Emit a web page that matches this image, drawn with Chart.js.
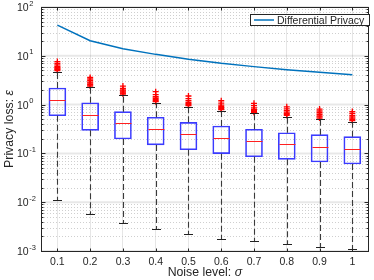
<!DOCTYPE html>
<html>
<head>
  <title>Privacy loss vs noise level</title>
  <script src="https://cdn.jsdelivr.net/npm/chart.js"></script>
  <style>
    body { margin: 0; background: #fff; }
    canvas { display: block; }
  </style>
</head>
<body>
  <canvas id="lossChart" width="374" height="280"></canvas>

  <script>
    // data
    const sigmaLabels = ['0.1', '0.2', '0.3', '0.4', '0.5', '0.6', '0.7', '0.8', '0.9', '1'];
    const dpLoss      = [42.5, 20.4, 14.0, 10.7, 8.5, 7.0, 6.0, 5.2, 4.6, 4.1];
    const q1          = [0.59, 0.297, 0.197, 0.149, 0.119, 0.0986, 0.0853, 0.0757, 0.0667, 0.0607];
    const medians     = [1.24, 0.61, 0.414, 0.31, 0.246, 0.204, 0.177, 0.154, 0.137, 0.121];
    const q3          = [2.19, 1.09, 0.716, 0.55, 0.433, 0.364, 0.312, 0.265, 0.242, 0.22];
    const whiskerLow  = [0.0111, 0.00565, 0.00375, 0.00283, 0.0022, 0.0018, 0.00158, 0.00137, 0.00123, 0.00111];
    const whiskerHigh = [4.7, 2.26, 1.57, 1.09, 0.905, 0.75, 0.66, 0.565, 0.507, 0.447];
    const outliers = [
      [5.0, 5.2, 5.4, 5.6, 5.8, 6.1, 6.5, 7.0, 7.6],
      [2.4, 2.5, 2.6, 2.75, 2.9, 3.1, 3.35, 3.6],
      [1.65, 1.72, 1.8, 1.9, 2.0, 2.15, 2.4],
      [1.15, 1.2, 1.27, 1.35, 1.45, 1.6, 1.84],
      [0.95, 1.0, 1.05, 1.1, 1.2, 1.32, 1.5],
      [0.79, 0.83, 0.87, 0.92, 0.98, 1.07, 1.2],
      [0.69, 0.72, 0.76, 0.8, 0.86, 0.95, 1.06],
      [0.6, 0.63, 0.66, 0.7, 0.75, 0.82, 0.9],
      [0.53, 0.56, 0.59, 0.63, 0.68, 0.74, 0.81],
      [0.47, 0.5, 0.53, 0.56, 0.6, 0.66, 0.72]
    ];
    const yExps = [-3, -2, -1, 0, 1, 2];

    const FONT = '"Liberation Sans", Arial, sans-serif';
    const AXIS_COLOR = '#262626';
    const TITLE_SIZE = 12.3;

    const crisp = v => Math.round(v) + 0.5;

    // minor dotted grid + decade lines
    const gridPlugin = {
      id: 'logGrid',
      beforeDatasetsDraw(chart) {
        const { ctx, chartArea: a, scales: { y } } = chart;
        ctx.save();
        ctx.lineWidth = 1;
        for (let e = yExps[0]; e < yExps[yExps.length - 1]; e++) {
          for (let s = 2; s <= 9; s++) {
            const py = crisp(y.getPixelForValue(s * Math.pow(10, e)));
            ctx.strokeStyle = '#cfcfcf';
            ctx.setLineDash([1, 2]);
            ctx.beginPath(); ctx.moveTo(a.left, py); ctx.lineTo(a.right, py); ctx.stroke();
          }
        }
        ctx.setLineDash([]);
        yExps.forEach(e => {
          const py = y.getPixelForValue(Math.pow(10, e));
          ctx.strokeStyle = 'rgba(0,0,0,0.09)';
          ctx.lineWidth = 2;
          ctx.beginPath(); ctx.moveTo(a.left, py); ctx.lineTo(a.right, py); ctx.stroke();
        });
        ctx.restore();
      }
    };

    // whiskers, caps and medians
    const boxPlugin = {
      id: 'boxParts',
      afterDatasetsDraw(chart) {
        const { ctx, scales: { x, y } } = chart;
        ctx.save();
        ctx.lineWidth = 1;
        sigmaLabels.forEach((lab, i) => {
          const cx = crisp(x.getPixelForValue(i));
          const yLo = crisp(y.getPixelForValue(whiskerLow[i]));
          const yHi = crisp(y.getPixelForValue(whiskerHigh[i]));
          const yB = y.getPixelForValue(q1[i]);
          const yT = y.getPixelForValue(q3[i]);
          const yM = crisp(y.getPixelForValue(medians[i]));

          ctx.strokeStyle = '#3a3a3a';
          ctx.lineWidth = 1.1;
          ctx.setLineDash([6, 3]);
          ctx.beginPath();
          ctx.moveTo(cx, yT); ctx.lineTo(cx, yHi);
          ctx.moveTo(cx, yB); ctx.lineTo(cx, yLo);
          ctx.stroke();

          ctx.setLineDash([]);
          ctx.lineWidth = 1;
          ctx.strokeStyle = '#222';
          ctx.beginPath();
          ctx.moveTo(cx - 4.5, yHi); ctx.lineTo(cx + 4.5, yHi);
          ctx.moveTo(cx - 4.5, yLo); ctx.lineTo(cx + 4.5, yLo);
          ctx.stroke();

          ctx.strokeStyle = '#ff2020';
          ctx.beginPath();
          ctx.moveTo(cx - 8, yM); ctx.lineTo(cx + 8, yM);
          ctx.stroke();
        });
        ctx.restore();
      }
    };

    function drawMixed(ctx, plain, ital, size) {
      ctx.font = size + 'px ' + FONT;
      const w1 = ctx.measureText(plain).width;
      ctx.font = 'italic ' + size + 'px ' + FONT;
      const w2 = ctx.measureText(ital).width;
      ctx.textAlign = 'left';
      ctx.font = size + 'px ' + FONT;
      ctx.fillText(plain, -(w1 + w2) / 2, 0);
      ctx.font = 'italic ' + size + 'px ' + FONT;
      ctx.fillText(ital, -(w1 + w2) / 2 + w1, 0);
    }

    // axes frame, inward ticks, tick labels, titles, legend
    const framePlugin = {
      id: 'frame',
      afterDraw(chart) {
        const { ctx, chartArea: a, scales: { x, y } } = chart;
        const L = crisp(a.left), R = crisp(a.right) - 1, T = crisp(a.top), B = crisp(a.bottom);
        ctx.save();
        ctx.strokeStyle = AXIS_COLOR;
        ctx.lineWidth = 1;
        ctx.strokeRect(L, T, R - L, B - T);

        ctx.beginPath();
        sigmaLabels.forEach((lab, i) => {
          const px = crisp(x.getPixelForValue(i));
          ctx.moveTo(px, B); ctx.lineTo(px, B - 3);
          ctx.moveTo(px, T); ctx.lineTo(px, T + 3);
        });
        for (let e = yExps[0]; e < yExps[yExps.length - 1]; e++) {
          for (let s = 1; s <= 9; s++) {
            const py = crisp(y.getPixelForValue(s * Math.pow(10, e)));
            const len = s === 1 ? 4 : 2;
            ctx.moveTo(L, py); ctx.lineTo(L + len, py);
            ctx.moveTo(R, py); ctx.lineTo(R - len, py);
          }
        }
        ctx.stroke();

        ctx.fillStyle = AXIS_COLOR;
        ctx.textBaseline = 'alphabetic';
        ctx.textAlign = 'center';
        ctx.font = '10.5px ' + FONT;
        sigmaLabels.forEach((lab, i) => {
          ctx.fillText(lab, x.getPixelForValue(i), 264.5);
        });

        yExps.forEach(e => {
          const py = y.getPixelForValue(Math.pow(10, e));
          ctx.textAlign = 'left';
          ctx.font = '10.5px ' + FONT;
          ctx.fillText('10', 17, py + 4);
          const w = ctx.measureText('10').width;
          ctx.font = '7.5px ' + FONT;
          ctx.fillText(String(e), 17 + w + 0.5, py - 1.5);
        });

        ctx.save();
        ctx.translate((a.left + a.right) / 2, 276);
        drawMixed(ctx, 'Noise level: ', '\u03c3', TITLE_SIZE);
        ctx.restore();

        ctx.save();
        ctx.translate(12.5, (a.top + a.bottom) / 2);
        ctx.rotate(-Math.PI / 2);
        drawMixed(ctx, 'Privacy loss: ', '\u03b5', TITLE_SIZE);
        ctx.restore();

        // legend
        ctx.fillStyle = '#fff';
        ctx.fillRect(250.5, 14.5, 119, 11);
        ctx.strokeStyle = AXIS_COLOR;
        ctx.lineWidth = 1;
        ctx.strokeRect(250.5, 14.5, 119, 11);
        ctx.strokeStyle = '#0072bd';
        ctx.lineWidth = 1.5;
        ctx.beginPath(); ctx.moveTo(254, 20); ctx.lineTo(274, 20); ctx.stroke();
        ctx.fillStyle = AXIS_COLOR;
        ctx.font = '10.5px ' + FONT;
        ctx.textAlign = 'left';
        ctx.textBaseline = 'alphabetic';
        ctx.fillText('Differential Privacy', 277, 23.8);
        ctx.restore();
      }
    };

    const outlierPoints = [];
    outliers.forEach((list, i) => list.forEach(v => outlierPoints.push({ x: sigmaLabels[i], y: v })));

    new Chart(document.getElementById('lossChart'), {
      type: 'bar',
      data: {
        labels: sigmaLabels,
        datasets: [
          {
            type: 'line',
            label: 'Differential Privacy',
            data: dpLoss,
            borderColor: '#0072bd',
            borderWidth: 1.5,
            pointRadius: 0,
            tension: 0,
            order: 1
          },
          {
            type: 'bar',
            label: 'box',
            data: sigmaLabels.map((l, i) => [q1[i], q3[i]]),
            backgroundColor: 'transparent',
            borderColor: '#3b3bff',
            borderWidth: 1,
            borderSkipped: false,
            barThickness: 17,
            order: 3
          },
          {
            type: 'line',
            label: 'outliers',
            data: outlierPoints,
            showLine: false,
            pointStyle: 'cross',
            pointRadius: 3,
            borderColor: '#ff0000',
            borderWidth: 1.3,
            backgroundColor: '#ff0000',
            order: 2
          }
        ]
      },
      options: {
        responsive: false,
        animation: false,
        devicePixelRatio: 1,
        layout: { padding: { top: 7, right: 1, left: 0, bottom: 0 } },
        plugins: { legend: { display: false }, tooltip: { enabled: false } },
        scales: {
          x: {
            offset: true,
            grid: { offset: false, color: '#e6e6e6', drawTicks: false },
            border: { display: false },
            ticks: { display: false },
            afterFit: s => { s.height = 29; }
          },
          y: {
            type: 'logarithmic',
            min: 0.001,
            max: 100,
            grid: { display: false },
            border: { display: false },
            ticks: { display: false },
            afterFit: s => { s.width = 41; }
          }
        }
      },
      plugins: [gridPlugin, boxPlugin, framePlugin]
    });
  </script>
</body>
</html>
